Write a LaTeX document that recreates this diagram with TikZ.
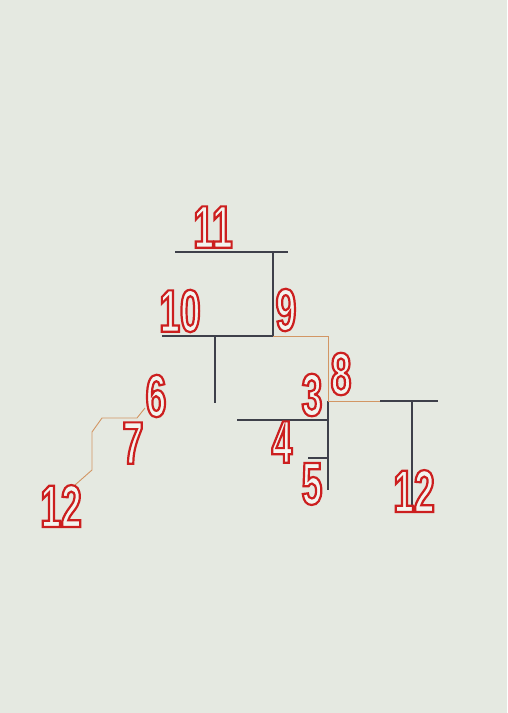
\documentclass[tikz,border=0pt]{standalone}
\usepackage{fontspec}
\setmainfont[FakeStretch=0.62]{Liberation Sans}
\definecolor{bg}{RGB}{229,233,225}
\definecolor{numfill}{RGB}{243,244,239}
\definecolor{ink}{RGB}{62,64,74}
\definecolor{tanline}{RGB}{210,150,100}
\tikzset{
  num/.style={inner sep=0pt, font=\fontsize{60}{60}\selectfont\bfseries, text=numfill},
  darkline/.style={draw=ink, line width=1.3pt},
  lightline/.style={draw=tanline, line width=1pt},
}
\newcommand{\nm}[1]{\special{pdf:literal 2 Tr 2.2 w 0.80 0.12 0.12 RG}#1\special{pdf:literal 0 Tr 0.4 w}}
\begin{document}
\begin{tikzpicture}[x=1pt,y=-1pt]
\fill[bg] (0,0) rectangle (507,713);
\useasboundingbox (0,0) rectangle (507,713);
% connectors
\coordinate (a1) at (175,252); \coordinate (a2) at (288,252);
\coordinate (a3) at (273,252); \coordinate (a4) at (273,336);
\coordinate (b1) at (162,336); \coordinate (b2) at (328,336);
\coordinate (bs1) at (215,336); \coordinate (bs2) at (215,403);
\coordinate (c0) at (328,401); \coordinate (c1) at (328,490);
\coordinate (cm) at (380,401);
\coordinate (d1) at (438,401); \coordinate (ds1) at (412,401); \coordinate (ds2) at (412,512);
\coordinate (e1) at (237,420); \coordinate (e2) at (328,420);
\coordinate (f1) at (308,458); \coordinate (f2) at (328,458);
\coordinate (g1) at (145,408); \coordinate (g2) at (137,418); \coordinate (g3) at (102,418);
\coordinate (g4) at (92,432); \coordinate (g5) at (92,470); \coordinate (g6) at (75,485);
\draw[darkline] (a1) -- (a2);
\draw[darkline] (a3) -- (a4);
\draw[darkline] (b1) -- (a4);
\draw[lightline] (a4) -- (b2) -- (c0);
\draw[darkline] (bs1) -- (bs2);
\draw[darkline] (c0) -- (c1);
\draw[lightline] (c0) -- (cm);
\draw[darkline] (cm) -- (d1);
\draw[darkline] (ds1) -- (ds2);
\draw[darkline] (e1) -- (e2);
\draw[darkline] (f1) -- (f2);
\draw[lightline, line width=0.9pt] (g1) -- (g2) -- (g3) -- (g4) -- (g5) -- (g6);
% numbers
\node[num] (n11) at (213,227) {\nm{11}};
\node[num] (n10) at (180,311) {\nm{10}};
\node[num] (n9) at (286,310) {\nm{9}};
\node[num] (n8) at (341,374) {\nm{8}};
\node[num] (n3) at (312,395) {\nm{3}};
\node[num] (n4) at (282,442) {\nm{4}};
\node[num] (n5) at (312,484) {\nm{5}};
\node[num] (n12r) at (414,491) {\nm{12}};
\node[num] (n6) at (156,396) {\nm{6}};
\node[num] (n7) at (133,443) {\nm{7}};
\node[num] (n12l) at (61,506) {\nm{12}};
\end{tikzpicture}
\end{document}
